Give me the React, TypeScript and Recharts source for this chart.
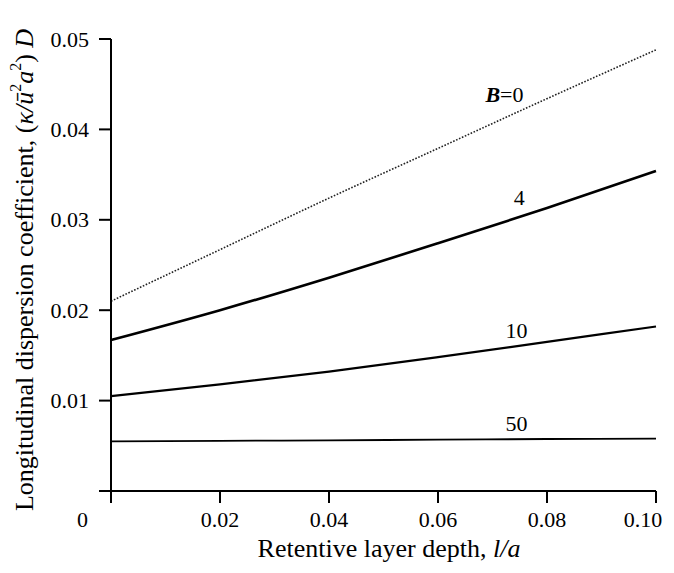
import { LineChart, Line, XAxis, YAxis, Label, ReferenceDot } from 'recharts'

const depth = [0, 0.02, 0.04, 0.06, 0.08, 0.1]
const b0 = [0.021, 0.0267, 0.0324, 0.0379, 0.0434, 0.0488]
const b4 = [0.0167, 0.02, 0.0236, 0.0274, 0.0313, 0.0354]
const b10 = [0.0105, 0.0118, 0.0132, 0.0148, 0.0165, 0.0182]
const b50 = [0.0055, 0.00555, 0.0056, 0.00568, 0.00575, 0.0058]

const xTicks = [0, 0.02, 0.04, 0.06, 0.08, 0.1]
const yTicks = [0, 0.01, 0.02, 0.03, 0.04, 0.05]

// where the curve labels sit (x, y in data units)
const curveLabels = [
  { text: '0', x: 0.0722, y: 0.0439, italicB: true },
  { text: '4', x: 0.0749, y: 0.0325, italicB: false },
  { text: '10', x: 0.0744, y: 0.0177, italicB: false },
  { text: '50', x: 0.0744, y: 0.00752, italicB: false },
]

const data = depth.map((d, i) => ({ d, b0: b0[i], b4: b4[i], b10: b10[i], b50: b50[i] }))

const font = '"Liberation Serif", "Times New Roman", serif'

function XTick(props: any) {
  const { x, y, payload } = props
  const v = payload.value
  const label = v === 0 ? '0' : v.toFixed(2)
  // origin label sits left of the axis, last one pulled in so it isn't cut at the edge
  const dx = v === 0 ? -28.5 : v === 0.1 ? -13 : 0
  return (
    <text x={x + dx} y={y + 7} textAnchor="middle" dominantBaseline="central"
      fontFamily={font} fontSize={22} fill="#000">
      {label}
    </text>
  )
}

function YTick(props: any) {
  const { x, y, payload } = props
  if (payload.value === 0) return <g />
  return (
    <text x={x} y={y} textAnchor="end" dominantBaseline="central"
      fontFamily={font} fontSize={22} fill="#000">
      {payload.value.toFixed(2)}
    </text>
  )
}

function YTitle() {
  return (
    <text x={0} y={0} transform="translate(16,262) rotate(-90)" textAnchor="middle"
      dominantBaseline="central" fontFamily={font} fontSize={26} fill="#000">
      Longitudinal dispersion coefficient, (
      <tspan fontStyle="italic">κ/ū</tspan>
      <tspan fontSize={16} baselineShift="super">2</tspan>
      <tspan fontStyle="italic">a</tspan>
      <tspan fontSize={16} baselineShift="super">2</tspan>
      <tspan>) </tspan>
      <tspan fontStyle="italic">D</tspan>
    </text>
  )
}

function XTitle() {
  return (
    <text x={381} y={549} textAnchor="middle" fontFamily={font} fontSize={26} fill="#000">
      Retentive layer depth, <tspan fontStyle="italic">l/a</tspan>
    </text>
  )
}

export default function App() {
  return (
    <div style={{ width: 658, height: 555 }}>
      <style>{'html, body { overflow: hidden; } .recharts-surface { overflow: visible; } .recharts-wrapper { overflow: visible; }'}</style>
      <LineChart width={648} height={555} data={data}
        margin={{ top: 31, right: 0, left: 23, bottom: 12 }}>
        <XAxis dataKey="d" type="number" domain={[0, 0.1]} ticks={xTicks}
          tickSize={12} tickMargin={9} height={60}
          axisLine={{ stroke: '#000', strokeWidth: 2 }}
          tickLine={{ stroke: '#000', strokeWidth: 2 }}
          tick={<XTick />} interval={0}>
          <Label content={<XTitle />} />
        </XAxis>
        <YAxis type="number" domain={[0, 0.05]} ticks={yTicks} width={80}
          tickSize={12} tickMargin={10}
          axisLine={{ stroke: '#000', strokeWidth: 2 }}
          tickLine={{ stroke: '#000', strokeWidth: 2 }}
          tick={<YTick />} interval={0}>
          <Label content={<YTitle />} />
        </YAxis>
        <Line dataKey="b0" type="monotone" stroke="#222" strokeWidth={1.6}
          strokeDasharray="1.6 1.6" dot={false} isAnimationActive={false} />
        <Line dataKey="b4" type="monotone" stroke="#000" strokeWidth={2.6}
          dot={false} isAnimationActive={false} />
        <Line dataKey="b10" type="monotone" stroke="#000" strokeWidth={2.2}
          dot={false} isAnimationActive={false} />
        <Line dataKey="b50" type="monotone" stroke="#000" strokeWidth={1.8}
          dot={false} isAnimationActive={false} />
        {curveLabels.map((c) => (
          <ReferenceDot key={c.text} x={c.x} y={c.y} r={0}
            shape={(p: any) => (
              <text x={p.cx} y={p.cy} textAnchor="middle" dominantBaseline="central"
                fontFamily={font} fontSize={22} fill="#000">
                {c.italicB ? (
                  <>
                    <tspan fontStyle="italic" fontWeight="bold">B</tspan>=0
                  </>
                ) : c.text}
              </text>
            )}
          />
        ))}
      </LineChart>
    </div>
  )
}
